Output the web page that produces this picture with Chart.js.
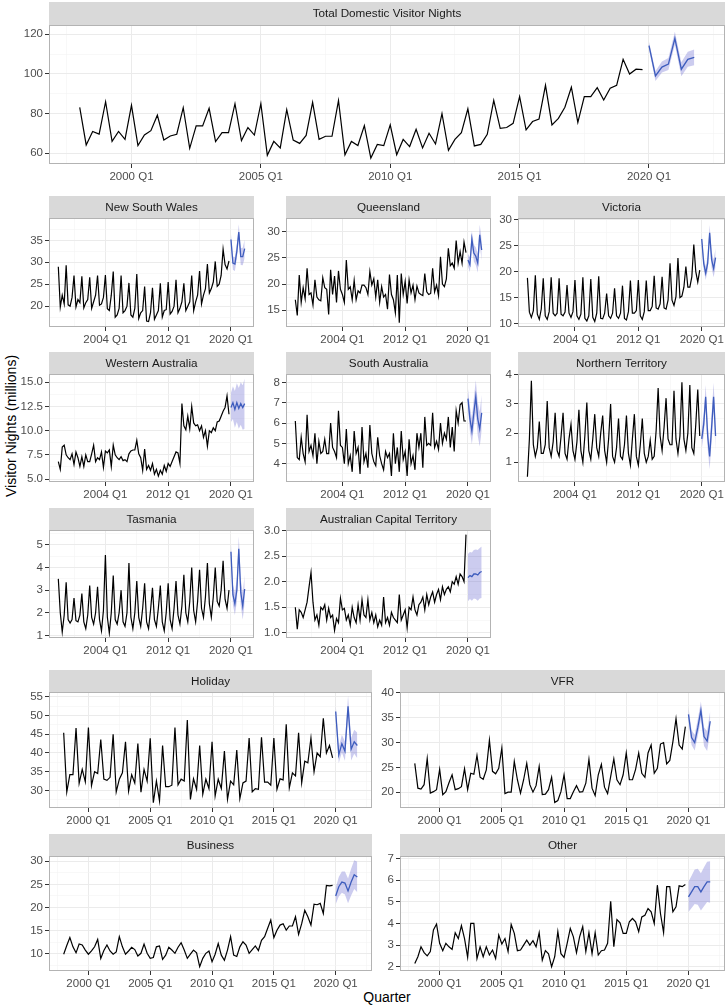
<!DOCTYPE html>
<html>
<head>
<meta charset="utf-8">
<script src="https://cdn.jsdelivr.net/npm/chart.js@4.4.0/dist/chart.umd.min.js"></script>
<style>
  body { margin: 0; background: #fff; }
  #wrap { position: relative; width: 728px; height: 1006px; overflow: hidden;
          font-family: "Liberation Sans", Arial, sans-serif; }
  canvas { position: absolute; }
  .ytitle { position: absolute; left: 11px; top: 426px; font-size: 14px; white-space: nowrap;
            transform: translate(-50%, -50%) rotate(-90deg); color: #000; }
  .xtitle { position: absolute; left: 387px; top: 997px; font-size: 14px;
            transform: translate(-50%, -50%); color: #000; }
</style>
</head>
<body>
<div id="wrap">
  <div class="ytitle">Visitor Nights (millions)</div>
  <div class="xtitle">Quarter</div>
</div>
<script>
// history runs 1998 Q1 - 2019 Q4, forecasts 2020 Q1 - 2021 Q4
const historyStart = 1998;
const forecastStart = 2020;

const fiveYearTicks = [2000, 2005, 2010, 2015, 2020];
const fiveYearMinor = [1997.5, 2002.5, 2007.5, 2012.5, 2017.5, 2022.5];
const eightYearTicks = [2004, 2012, 2020];
const eightYearMinor = [2000, 2008, 2016];

const total = [
  83.2, 64.2, 71.0, 69.7,  86.0, 66.0, 71.0, 67.0,  84.2, 63.9, 69.2, 71.4,
  79.2, 66.7, 68.7, 69.6,  83.0, 62.5, 73.8, 73.8,  82.7, 65.9, 70.4, 70.4,
  85.0, 66.4, 73.0, 69.2,  85.0, 59.0, 66.0, 62.7,  82.0, 66.7, 65.0, 69.0,
  85.7, 67.0, 68.6, 68.6,  86.6, 59.2, 66.0, 63.9,  74.0, 57.6, 64.5, 63.9,
  74.3, 59.3, 67.0, 63.4,  72.1, 62.7, 70.1, 64.7,  80.0, 61.5, 67.0, 70.4,
  82.4, 63.7, 64.5, 69.6,  86.7, 72.6, 73.0, 75.1,  88.6, 71.8, 76.0, 77.3,
  94.3, 74.3, 77.6, 83.2,  93.3, 75.6, 88.6, 88.6,  93.1, 86.9, 92.8, 94.3,
  107.4, 100.0, 102.4, 102.2
];
const totalFc = [114.3, 99.0, 103.5, 105.0, 118.0, 102.4, 107.4, 108.4];
const totalLo = [112.3, 96.5, 100.7, 102.0, 114.7, 98.9, 103.6, 104.4];
const totalHi = [116.3, 101.5, 106.3, 108.0, 121.3, 105.9, 111.2, 112.4];

const nsw = [
  29.0, 19.8, 22.5, 20.5,  29.3, 20.3, 20.0, 22.0,  27.0, 19.8, 21.5, 20.8,
  26.8, 19.6, 20.8, 21.5,  26.6, 19.5, 21.0, 22.5,  27.0, 20.2, 20.5, 22.0,
  27.1, 19.4, 19.0, 22.5,  27.9, 17.5, 18.0, 19.5,  27.0, 18.5, 19.0, 20.0,
  25.3, 18.0, 17.5, 19.5,  27.3, 17.2, 18.5, 19.0,  24.5, 16.6, 16.5, 18.5,
  24.2, 17.0, 18.0, 19.0,  25.2, 17.5, 19.0, 19.2,  25.5, 18.2, 18.8, 20.0,
  26.0, 18.5, 19.5, 21.0,  25.2, 19.0, 20.0, 21.0,  27.0, 19.0, 21.0, 22.5,
  28.0, 20.5, 22.5, 24.0,  29.6, 23.0, 24.0, 25.5,  30.2, 24.5, 25.0, 27.0,
  33.0, 29.5, 28.5, 30.3
];
const nswFc = [35.2, 29.8, 29.6, 32.5, 36.9, 31.3, 31.3, 33.1];
const nswLo = [33.9, 28.3, 28.0, 30.8, 35.1, 29.4, 29.3, 31.0];
const nswHi = [36.5, 31.3, 31.2, 34.2, 38.7, 33.2, 33.3, 35.2];

const qld = [
  17.0, 14.0, 21.7, 16.5,  19.3, 17.2, 23.0, 18.0,  18.3, 16.0, 20.8, 17.5,
  17.0, 16.8, 21.2, 19.3,  19.0, 14.2, 22.7, 18.0,  21.5, 16.5, 22.5, 19.0,
  18.0, 16.5, 24.6, 19.0,  19.5, 17.0, 20.7, 17.0,  18.7, 18.3, 19.8, 19.8,
  19.3, 18.0, 22.4, 19.8,  21.0, 17.5, 20.8, 16.5,  19.5, 17.5, 18.0, 15.2,
  21.8, 18.0, 17.0, 14.5,  21.7, 12.6, 22.0, 18.0,  20.5, 16.3, 20.8, 18.3,
  19.8, 17.0, 19.6, 18.3,  18.0, 17.8, 22.0, 18.5,  18.0, 18.2, 23.0, 18.5,
  19.8, 17.8, 25.2, 20.0,  19.5, 21.0, 26.8, 23.5,  24.0, 23.0, 28.3, 24.0,
  26.2, 24.0, 28.0, 26.0
];
const qldFc = [24.6, 23.7, 28.6, 25.9, 25.3, 24.0, 29.4, 26.5];
const qldLo = [23.4, 22.3, 27.1, 24.3, 23.6, 22.2, 27.5, 24.5];
const qldHi = [25.8, 25.1, 30.1, 27.5, 27.0, 25.8, 31.3, 28.5];

const vic = [
  18.8, 12.2, 11.2, 12.5,  19.3, 11.8, 10.8, 12.8,  18.7, 11.5, 10.8, 12.3,
  18.9, 12.0, 11.5, 12.0,  18.7, 11.8, 11.5, 12.2,  17.4, 12.0, 11.2, 12.3,
  18.4, 11.5, 10.8, 11.8,  18.9, 11.0, 10.5, 11.5,  18.6, 11.2, 10.4, 12.0,
  19.1, 11.0, 10.9, 12.0,  15.8, 11.5, 11.0, 12.0,  16.8, 11.5, 11.0, 12.0,
  17.3, 11.0, 10.7, 12.3,  18.3, 12.0, 12.0, 12.5,  18.4, 11.5, 10.8, 12.3,
  18.3, 12.5, 12.5, 13.3,  19.2, 13.0, 12.8, 13.8,  19.0, 13.0, 12.8, 14.5,
  21.6, 14.5, 13.5, 15.2,  22.6, 15.0, 15.3, 17.0,  21.0, 17.0, 17.0, 19.0,
  25.2, 20.0, 18.0, 20.3
];
const vicFc = [26.3, 21.6, 19.7, 21.6, 27.5, 22.3, 20.6, 22.7];
const vicLo = [25.3, 20.4, 18.4, 20.2, 26.0, 20.7, 18.9, 20.9];
const vicHi = [27.3, 22.8, 21.0, 23.0, 29.0, 23.9, 22.3, 24.5];

const wa = [
  6.8, 6.0, 8.3, 8.5,  7.5, 7.2, 7.0, 7.6,  6.5, 7.8, 7.2, 6.3,
  7.3, 6.3, 7.5, 6.8,  6.8, 7.6, 8.5, 6.8,  7.2, 7.0, 7.8, 6.2,
  7.9, 7.7, 8.0, 6.3,  8.5, 7.5, 7.2, 7.0,  7.3, 6.9, 7.0, 6.8,
  7.6, 7.9, 8.0, 8.0,  9.0, 7.6, 7.2, 5.9,  8.1, 6.0, 6.4, 5.9,
  6.6, 5.5, 6.0, 5.3,  5.9, 5.5, 6.4, 5.8,  6.6, 6.3, 6.8, 7.3,
  7.8, 7.7, 6.6, 12.8,  10.5, 10.1, 11.5, 10.2,  12.5, 10.8, 10.5, 10.6,
  10.0, 10.5, 9.3, 10.0,  8.4, 10.0, 9.8, 10.3,  10.0, 10.9, 11.0, 11.5,
  12.0, 12.4, 13.6, 11.7
];
const waFc = [12.4, 12.9, 12.2, 12.9, 12.3, 12.8, 12.4, 12.8];
const waLo = [10.9, 11.2, 10.3, 10.9, 10.2, 10.6, 10.1, 10.2];
const waHi = [13.9, 14.6, 14.1, 14.9, 14.4, 15.0, 14.7, 15.4];

const sa = [
  6.1, 4.3, 4.2, 5.3,  4.5, 4.1, 6.4, 4.6,  4.9, 4.4, 5.5, 4.0,
  5.1, 4.5, 4.6, 5.2,  4.5, 4.5, 6.0, 4.8,  4.6, 4.3, 6.6, 4.9,
  4.8, 4.0, 5.7, 4.0,  4.4, 3.6, 5.6, 4.5,  4.8, 3.5, 5.8, 4.1,
  4.5, 3.8, 5.9, 4.5,  4.1, 3.9, 5.3, 4.4,  4.0, 3.7, 4.6, 4.3,
  4.5, 3.4, 5.5, 4.0,  4.8, 3.6, 5.6, 4.2,  4.6, 3.4, 5.2, 4.0,
  4.4, 3.7, 5.5, 4.8,  5.5, 3.8, 6.3, 4.9,  5.0, 4.9, 6.5, 4.8,
  5.1, 4.7, 6.0, 5.0,  5.5, 5.2, 6.3, 4.8,  5.8, 4.6, 6.6, 6.0,
  6.9, 7.0, 6.1, 6.1
];
const saFc = [7.2, 6.2, 5.6, 6.5, 7.3, 6.2, 5.7, 6.5];
const saLo = [6.7, 5.6, 4.95, 5.8, 6.5, 5.38, 4.85, 5.62];
const saHi = [7.7, 6.8, 6.25, 7.2, 8.1, 7.02, 6.55, 7.38];

const nt = [
  0.5, 1.8, 3.8, 1.6,  1.2, 1.5, 2.4, 1.3,  1.3, 1.6, 3.1, 1.5,
  1.2, 1.7, 2.7, 1.4,  1.2, 1.9, 2.7, 1.3,  1.1, 1.8, 2.3, 1.4,
  1.1, 1.7, 2.8, 1.4,  1.0, 1.9, 3.05, 1.4,  1.1, 1.8, 2.65, 1.5,
  1.2, 2.0, 2.6, 1.4,  1.0, 1.8, 3.0, 1.2,  1.0, 1.5, 2.5, 1.2,
  1.1, 1.6, 2.6, 1.3,  0.9, 1.8, 2.65, 1.2,  0.9, 1.6, 2.5, 1.3,
  1.0, 1.2, 1.75, 1.1,  1.2, 2.1, 3.55, 1.9,  1.4, 2.2, 3.2, 1.8,
  1.6, 1.6, 3.45, 1.8,  1.3, 1.9, 3.75, 1.8,  1.4, 2.0, 3.65, 1.5,
  1.3, 2.3, 3.5, 1.9
];
const ntFc = [1.8, 2.3, 3.25, 1.9, 1.2, 2.2, 3.25, 1.9];
const ntLo = [1.45, 1.92, 2.85, 1.48, 0.76, 1.74, 2.77, 1.4];
const ntHi = [2.15, 2.68, 3.65, 2.32, 1.64, 2.66, 3.73, 2.4];

const tas = [
  3.5, 2.0, 1.15, 1.9,  3.35, 1.7, 1.55, 1.7,  2.65, 1.65, 1.6, 1.9,
  2.85, 1.6, 1.3, 1.9,  3.2, 1.8, 1.5, 2.0,  3.15, 1.7, 1.2, 2.1,
  4.55, 1.8, 1.1, 2.0,  3.65, 1.7, 1.5, 2.0,  3.0, 1.6, 1.4, 2.0,
  4.2, 1.8, 1.3, 2.0,  3.4, 1.8, 1.4, 2.2,  3.3, 1.6, 1.3, 2.1,
  3.1, 1.7, 1.4, 2.2,  3.2, 1.6, 1.2, 2.0,  3.3, 1.7, 1.3, 2.2,
  3.4, 1.9, 1.5, 2.3,  3.68, 2.0, 1.6, 2.5,  4.0, 2.1, 1.6, 2.5,
  3.9, 2.2, 1.8, 2.7,  4.2, 2.4, 1.8, 2.7,  4.0, 2.5, 2.3, 3.0,
  4.3, 2.6, 2.2, 3.0
];
const tasFc = [4.7, 2.8, 2.4, 3.0, 4.83, 2.9, 2.3, 3.05];
const tasLo = [4.3, 2.35, 1.9, 2.48, 4.28, 2.32, 1.7, 2.43];
const tasHi = [5.1, 3.25, 2.9, 3.52, 5.38, 3.48, 2.9, 3.67];

const act = [
  1.50, 1.07, 1.45, 1.40,  1.30, 1.45, 1.60, 1.90,  2.18, 1.60, 1.25, 1.35,
  1.15, 1.50, 1.45, 1.55,  1.25, 1.48, 1.30, 1.35,  1.05, 1.28, 1.20, 1.68,
  1.45, 1.48, 1.25, 1.35,  1.15, 1.50, 1.30, 1.20,  1.55, 1.25, 1.65, 1.35,
  1.30, 1.65, 1.25, 1.40,  1.20, 1.35, 1.12, 1.25,  1.15, 1.70, 1.20, 1.30,
  1.15, 1.40, 1.30, 1.25,  1.20, 1.75, 1.25, 1.35,  1.45, 1.10, 1.50, 1.45,
  1.70, 1.45, 1.35, 1.55,  1.60, 1.70, 1.45, 1.75,  1.55, 1.70, 1.80, 1.60,
  1.75, 1.85, 1.65, 1.90,  1.75, 1.85, 1.90, 1.80,  2.00, 1.95, 2.10, 1.95,
  2.15, 2.10, 2.00, 2.92
];
const actFc = [2.08, 2.12, 2.10, 2.15, 2.15, 2.13, 2.18, 2.20];
const actLo = [1.62, 1.66, 1.63, 1.67, 1.66, 1.63, 1.67, 1.68];
const actHi = [2.54, 2.58, 2.57, 2.62, 2.63, 2.62, 2.66, 2.69];

const holiday = [
  45.4, 29.6, 34.2, 34.2,  46.7, 31.9, 35.6, 32.3,  46.8, 31.3, 35.0, 34.5,
  43.6, 33.0, 32.7, 33.5,  45.0, 29.6, 33.0, 34.7,  43.0, 29.8, 34.2, 32.0,
  42.5, 29.5, 35.6, 32.5,  43.9, 26.7, 32.5, 27.2,  42.0, 31.0, 31.0, 31.4,
  46.8, 31.5, 33.0, 32.5,  48.8, 27.6, 33.1, 30.3,  42.0, 29.0, 33.0, 30.5,
  43.0, 28.5, 33.0, 30.5,  40.5, 27.6, 32.5, 31.5,  40.8, 27.8, 32.0, 32.5,
  44.0, 29.6, 30.5, 30.3,  44.2, 32.2, 32.2, 31.4,  44.0, 30.3, 33.1, 32.8,
  47.7, 30.7, 34.7, 33.9,  45.4, 32.0, 37.8, 37.4,  44.0, 35.0, 40.0, 39.0,
  49.3, 40.0, 42.0, 38.7
];
const holidayFc = [51.1, 39.5, 42.5, 40.5, 52.5, 41.0, 43.0, 42.0];
const holidayLo = [49.1, 37.3, 40.1, 37.9, 49.7, 38.0, 39.8, 38.6];
const holidayHi = [53.1, 41.7, 44.9, 43.1, 55.3, 44.0, 46.2, 45.4];

const vfr = [
  25.8, 20.8, 20.6, 21.5,  26.8, 19.8, 20.1, 20.5,  24.6, 19.5, 20.1, 21.9,
  23.5, 20.5, 20.7, 21.1,  24.7, 20.5, 23.8, 23.6,  27.4, 23.0, 22.6, 24.5,
  30.5, 24.2, 23.7, 24.8,  28.9, 19.7, 20.0, 20.0,  26.2, 22.5, 19.8, 22.5,
  25.8, 21.5, 20.0, 21.3,  25.2, 19.5, 19.6, 20.5,  23.0, 17.9, 18.3, 20.1,
  23.5, 18.7, 18.7, 20.1,  21.3, 20.0, 20.1, 21.8,  26.6, 20.8, 19.3, 23.5,
  25.6, 21.0, 19.7, 23.2,  26.7, 22.5, 21.5, 23.5,  27.9, 22.5, 22.5, 24.6,
  27.9, 23.8, 23.0, 27.9,  29.5, 23.8, 24.8, 29.7,  30.0, 25.7, 26.4, 30.2,
  34.8, 29.5, 28.7, 33.2
];
const vfrFc = [35.7, 31.0, 30.0, 33.0, 36.5, 31.2, 30.3, 34.3];
const vfrLo = [34.3, 29.5, 28.4, 31.3, 34.7, 29.3, 28.3, 32.2];
const vfrHi = [37.1, 32.5, 31.6, 34.7, 38.3, 33.1, 32.3, 36.4];

const business = [
  9.9, 11.8, 13.5, 11.5, 10.2, 12.1, 11.9, 10.8, 9.9, 10.6,
  11.5, 13.1, 9.0, 10.7, 11.9, 10.6, 9.9, 10.4, 13.7, 11.5,
  9.9, 10.6, 11.4, 10.9, 9.5, 10.1, 12.1, 10.1, 9.0, 9.2,
  11.5, 11.7, 8.8, 9.7, 11.4, 10.8, 10.1, 11.4, 12.4, 10.8,
  9.0, 9.9, 10.8, 10.2, 7.2, 9.0, 10.1, 10.6, 8.3, 9.9,
  12.2, 9.7, 8.6, 10.8, 13.7, 9.7, 9.4, 11.5, 12.6, 11.9,
  10.1, 10.9, 11.7, 10.7, 12.9, 13.7, 15.5, 17.3, 13.5, 15.1,
  16.2, 16.5, 15.1, 16.0, 16.0, 18.0, 14.2, 16.5, 19.4, 18.0,
  16.2, 20.7, 20.6, 20.9, 18.7, 24.8, 24.7, 24.8
];
const businessFc = [22.5, 24.5, 25.5, 25.3, 23.6, 25.5, 27.1, 26.6];
const businessLo = [20.7, 22.4, 23.2, 22.8, 20.9, 22.6, 24.0, 23.3];
const businessHi = [24.3, 26.6, 27.8, 27.8, 26.3, 28.4, 30.2, 29.9];

const other = [
  2.15, 2.46, 2.92, 2.65, 2.5, 2.7, 3.7, 3.97, 3.08, 2.74,
  3.08, 2.92, 2.8, 3.57, 3.3, 3.9, 3.3, 2.43, 4.0, 4.0,
  2.38, 2.92, 2.46, 2.92, 2.54, 2.77, 2.38, 3.46, 3.05, 3.3,
  2.7, 3.95, 3.54, 2.74, 2.77, 3.0, 3.23, 3.0, 3.2, 2.92,
  3.57, 2.3, 2.74, 2.6, 2.0, 2.46, 3.62, 2.6, 2.43, 3.08,
  3.77, 3.38, 2.65, 3.38, 3.85, 2.7, 3.57, 2.6, 3.57, 2.54,
  2.74, 2.77, 3.08, 5.03, 2.92, 4.18, 4.03, 3.54, 3.54, 4.08,
  4.23, 4.08, 3.62, 4.3, 4.38, 4.69, 4.54, 4.0, 5.77, 4.46,
  3.58, 5.7, 5.7, 4.54, 4.77, 5.74, 5.7, 5.8
];
const otherFc = [5.23, 5.46, 5.7, 5.7, 5.46, 5.7, 5.92, 5.92];
const otherLo = [4.53, 4.71, 4.9, 4.87, 4.6, 4.8, 4.99, 4.96];
const otherHi = [5.93, 6.21, 6.5, 6.53, 6.32, 6.6, 6.85, 6.88];

// ---------------------------------------------------------------------------
const FONT = '"Liberation Sans", Arial, sans-serif';
const Y_AXIS_W = 44, X_AXIS_H = 20, RIGHT_PAD = 3;
const X_MIN = 1996.8125, X_MAX = 2022.9375;

Chart.defaults.font.family = FONT;
Chart.defaults.animation = false;

const wrap = document.getElementById('wrap');

const decor = {
  id: 'decor',
  beforeDraw(chart, args, opts) {
    const { ctx, chartArea: a } = chart;
    ctx.save();
    ctx.fillStyle = '#d9d9d9';
    ctx.fillRect(a.left, 0, a.right - a.left, a.top);
    ctx.fillStyle = '#1a1a1a';
    ctx.font = '11.7px ' + FONT;
    ctx.textAlign = 'center';
    ctx.textBaseline = 'middle';
    ctx.fillText(opts.title, (a.left + a.right) / 2, a.top / 2 + 0.5);
    ctx.restore();
  },
  afterDraw(chart) {
    const { ctx, chartArea: a } = chart;
    ctx.save();
    ctx.strokeStyle = '#b3b3b3';
    ctx.lineWidth = 1;
    ctx.strokeRect(a.left + 0.5, a.top + 0.5, a.right - a.left - 1, a.bottom - a.top - 1);
    ctx.restore();
  }
};

function pts(start, arr) {
  return arr.map((v, i) => ({ x: start + i / 4, y: v }));
}

function tickList(major, minor, fmt) {
  const t = major.map(v => ({ value: v, lab: fmt(v), minor: false }))
    .concat(minor.map(v => ({ value: v, lab: '', minor: true })));
  return t.sort((a, b) => a.value - b.value);
}

const gridStyle = {
  color: c => (c.tick && c.tick.minor) ? '#f3f3f3' : '#ebebeb',
  lineWidth: c => (c.tick && c.tick.minor) ? 0.6 : 1,
  tickColor: c => (c.tick && c.tick.minor) ? 'rgba(0,0,0,0)' : '#333333',
  tickLength: 4,
  tickWidth: 1
};

function panel(p) {
  const [left, stripTop, plotTop, right, bottom] = p.box;
  const c = document.createElement('canvas');
  c.width = right - left + Y_AXIS_W + RIGHT_PAD;
  c.height = bottom - stripTop + X_AXIS_H;
  c.style.left = (left - Y_AXIS_W) + 'px';
  c.style.top = stripTop + 'px';
  wrap.appendChild(c);

  const yFmt = v => v.toFixed(p.digits || 0);
  const xFmt = v => v + ' Q1';
  const xt = tickList(p.xMajor, p.xMinor, xFmt);
  const yt = tickList(p.yMajor, p.yMinor, yFmt);
  const tickFont = { family: FONT, size: 11.5 };

  new Chart(c, {
    type: 'line',
    data: {
      datasets: [
        { data: pts(historyStart, p.hist), borderColor: '#000000', borderWidth: 1.2 },
        { data: pts(forecastStart, p.fc), borderColor: '#3d5cbd', borderWidth: 1.3 },
        { data: pts(forecastStart, p.lo), borderWidth: 0, borderColor: 'rgba(0,0,0,0)', fill: false },
        { data: pts(forecastStart, p.hi), borderWidth: 0, borderColor: 'rgba(0,0,0,0)',
          fill: '-1', backgroundColor: 'rgba(122,122,214,0.38)' }
      ]
    },
    options: {
      responsive: false,
      events: [],
      elements: { point: { radius: 0 }, line: { tension: 0 } },
      layout: { padding: { top: plotTop - stripTop, right: RIGHT_PAD, left: 0, bottom: 0 } },
      plugins: { legend: { display: false }, tooltip: { enabled: false }, decor: { title: p.title } },
      scales: {
        x: {
          type: 'linear', min: X_MIN, max: X_MAX,
          afterBuildTicks: s => { s.ticks = xt.map(t => Object.assign({}, t)); },
          afterFit: s => { s.height = X_AXIS_H; },
          ticks: { autoSkip: false, maxRotation: 0, padding: 2, color: '#4d4d4d', font: tickFont,
                   callback: (v, i, ts) => ts[i].lab },
          grid: gridStyle,
          border: { display: false }
        },
        y: {
          type: 'linear', min: p.y[0], max: p.y[1],
          afterBuildTicks: s => { s.ticks = yt.map(t => Object.assign({}, t)); },
          afterFit: s => { s.width = Y_AXIS_W; },
          ticks: { autoSkip: false, padding: 2, color: '#4d4d4d', font: tickFont,
                   callback: (v, i, ts) => ts[i].lab },
          grid: gridStyle,
          border: { display: false }
        }
      }
    },
    plugins: [decor]
  });
}

// layout: [left, stripTop, plotTop, right, bottom]
const col1 = [49, 254], col2 = [286, 491], col3 = [518, 725];
const row1 = [196, 218, 327], row2 = [352, 374, 482], row3 = [508, 530, 638];
const box = (col, row) => [col[0], row[0], row[1], col[1], row[2]];

const panels = [
  { title: 'Total Domestic Visitor Nights', box: [49, 2, 25, 725, 164], y: [54.6, 124.7],
    yMajor: [60, 80, 100, 120], yMinor: [70, 90, 110],
    xMajor: fiveYearTicks, xMinor: fiveYearMinor,
    hist: total, fc: totalFc, lo: totalLo, hi: totalHi },

  { title: 'New South Wales', box: box(col1, row1), y: [15.25, 40.1],
    yMajor: [20, 25, 30, 35], yMinor: [17.5, 22.5, 27.5, 32.5, 37.5],
    xMajor: eightYearTicks, xMinor: eightYearMinor, hist: nsw, fc: nswFc, lo: nswLo, hi: nswHi },
  { title: 'Queensland', box: box(col2, row1), y: [11.8, 32.6],
    yMajor: [15, 20, 25, 30], yMinor: [12.5, 17.5, 22.5, 27.5, 32.5],
    xMajor: eightYearTicks, xMinor: eightYearMinor, hist: qld, fc: qldFc, lo: qldLo, hi: qldHi },
  { title: 'Victoria', box: box(col3, row1), y: [9.34, 30.33],
    yMajor: [10, 15, 20, 25, 30], yMinor: [12.5, 17.5, 22.5, 27.5],
    xMajor: eightYearTicks, xMinor: eightYearMinor, hist: vic, fc: vicFc, lo: vicLo, hi: vicHi },

  { title: 'Western Australia', box: box(col1, row2), y: [4.69, 15.86], digits: 1,
    yMajor: [5, 7.5, 10, 12.5, 15], yMinor: [6.25, 8.75, 11.25, 13.75],
    xMajor: eightYearTicks, xMinor: eightYearMinor, hist: wa, fc: waFc, lo: waLo, hi: waHi },
  { title: 'South Australia', box: box(col2, row2), y: [3.10, 8.41],
    yMajor: [4, 5, 6, 7, 8], yMinor: [3.5, 4.5, 5.5, 6.5, 7.5],
    xMajor: eightYearTicks, xMinor: eightYearMinor, hist: sa, fc: saFc, lo: saLo, hi: saHi },
  { title: 'Northern Territory', box: box(col3, row2), y: [0.32, 4.03],
    yMajor: [1, 2, 3, 4], yMinor: [0.5, 1.5, 2.5, 3.5],
    xMajor: eightYearTicks, xMinor: eightYearMinor, hist: nt, fc: ntFc, lo: ntLo, hi: ntHi },

  { title: 'Tasmania', box: box(col1, row3), y: [0.885, 5.66],
    yMajor: [1, 2, 3, 4, 5], yMinor: [1.5, 2.5, 3.5, 4.5, 5.5],
    xMajor: eightYearTicks, xMinor: eightYearMinor, hist: tas, fc: tasFc, lo: tasLo, hi: tasHi },
  { title: 'Australian Capital Territory', box: box(col2, row3), y: [0.90, 3.01], digits: 1,
    yMajor: [1, 1.5, 2, 2.5, 3], yMinor: [1.25, 1.75, 2.25, 2.75],
    xMajor: eightYearTicks, xMinor: eightYearMinor, hist: act, fc: actFc, lo: actLo, hi: actHi },

  { title: 'Holiday', box: [49, 670, 692, 372, 808], y: [25.3, 56.3],
    yMajor: [30, 35, 40, 45, 50, 55], yMinor: [27.5, 32.5, 37.5, 42.5, 47.5, 52.5],
    xMajor: fiveYearTicks, xMinor: fiveYearMinor,
    hist: holiday, fc: holidayFc, lo: holidayLo, hi: holidayHi },
  { title: 'VFR', box: [400, 670, 692, 725, 808], y: [16.8, 40.2],
    yMajor: [20, 25, 30, 35, 40], yMinor: [17.5, 22.5, 27.5, 32.5, 37.5],
    xMajor: fiveYearTicks, xMinor: fiveYearMinor,
    hist: vfr, fc: vfrFc, lo: vfrLo, hi: vfrHi },
  { title: 'Business', box: [49, 834, 856, 372, 971], y: [6.27, 31.14],
    yMajor: [10, 15, 20, 25, 30], yMinor: [7.5, 12.5, 17.5, 22.5, 27.5],
    xMajor: fiveYearTicks, xMinor: fiveYearMinor,
    hist: business, fc: businessFc, lo: businessLo, hi: businessHi },
  { title: 'Other', box: [400, 834, 856, 725, 971], y: [1.80, 7.12],
    yMajor: [2, 3, 4, 5, 6, 7], yMinor: [2.5, 3.5, 4.5, 5.5, 6.5],
    xMajor: fiveYearTicks, xMinor: fiveYearMinor,
    hist: other, fc: otherFc, lo: otherLo, hi: otherHi }
];

panels.forEach(panel);
</script>
</body>
</html>
